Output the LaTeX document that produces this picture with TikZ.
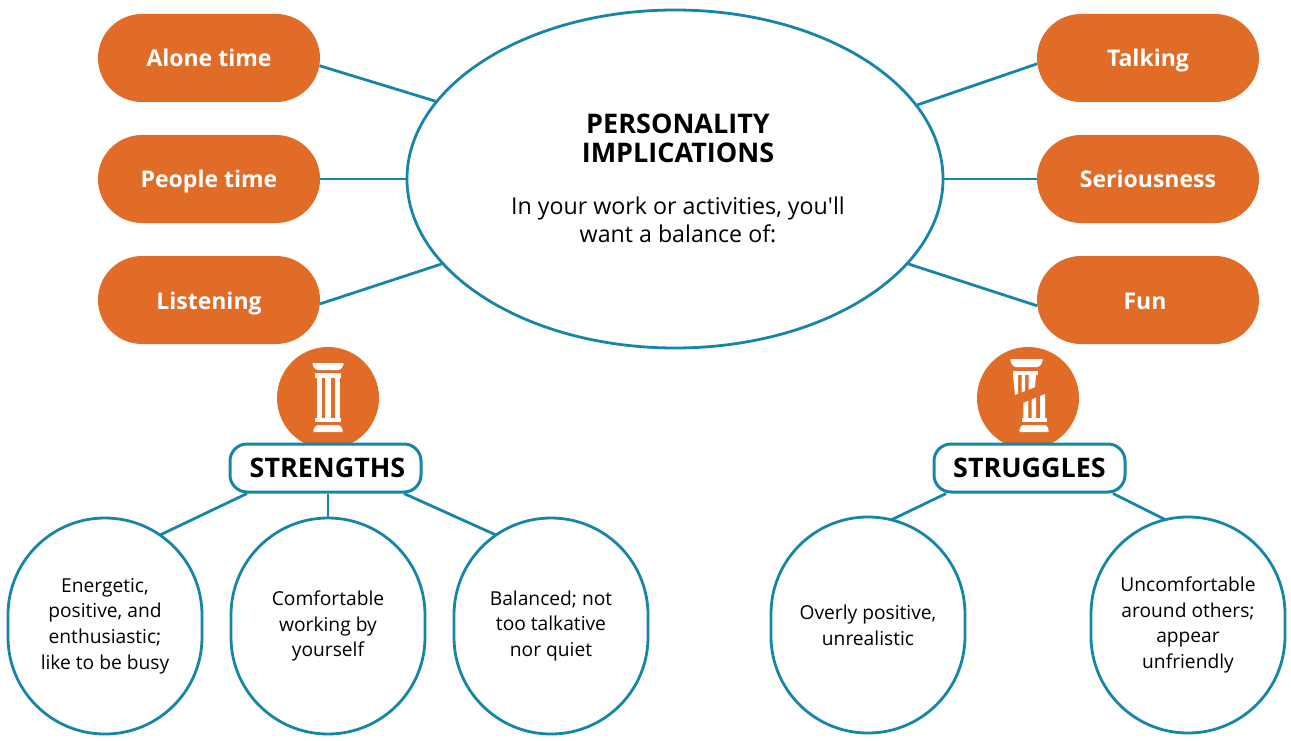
\documentclass[tikz,border=0pt]{standalone}
\usepackage{fontspec}
\setmainfont{Open Sans}
\usepackage{xcolor}
\usetikzlibrary{
    positioning,
    shapes.geometric,
    shapes.misc
}
\definecolor{printOrange}{RGB}{224, 108, 39}
\definecolor{printTeal}{RGB}{21, 133, 168}

\tikzset{
    link/.style={line width=2.8pt, printTeal},
    pill/.style={rounded rectangle, fill=printOrange, text=white, minimum width=222pt, minimum height=88pt, inner sep=0pt, text height=18pt, text depth=0pt, font=\fontsize{23}{28}\selectfont\bfseries},
    bubble/.style={rectangle, rounded corners=96.9pt, draw=printTeal, line width=2.8pt, fill=white, minimum width=194pt, minimum height=216pt, inner sep=0pt, align=center, font=\fontsize{19.2}{25.8}\selectfont},
    headbox/.style={rectangle, rounded corners=17pt, draw=printTeal, line width=3pt, fill=white, minimum width=191pt, minimum height=48pt, inner sep=0pt, text height=19pt, text depth=0pt, font=\fontsize{26.9}{30}\selectfont\bfseries},
    iconDisc/.style={circle, fill=printOrange, minimum size=102pt, inner sep=0pt}
}

\begin{document}
\begin{tikzpicture}[x=1pt, y=-1pt]
        \useasboundingbox (0,0) rectangle (1291,741);

        % centre
        \node[ellipse, draw=printTeal, line width=2.8pt, minimum width=536pt, minimum height=338pt, inner sep=0pt] (implications) at (675,179) {};
        \node[align=center, font=\fontsize{27}{29}\selectfont\bfseries] (title) at (678,138) {PERSONALITY\\IMPLICATIONS};
        \node[align=center, font=\fontsize{23.2}{28}\selectfont] (balance) at (678,220) {In your work or activities, you\textquotesingle ll\\want a balance of:};

        % left and right pills
        \node[pill] (alone) at (209,58) {Alone time};
        \node[pill] (people) at (209,179) {People time};
        \node[pill] (listening) at (209,300) {Listening};
        \node[pill] (talking) at (1148,58) {Talking};
        \node[pill] (seriousness) at (1148,179) {Seriousness};
        \node[pill] (fun) at (1148,300) {Fun\hspace*{6pt}};

        \draw[link] (alone.-4.6) -- (implications.162.7);
        \draw[link] (people.east) -- (implications.west);
        \draw[link] (listening.-2) -- (implications.200.1);
        \draw[link] (talking.183) -- (implications.17.4);
        \draw[link] (seriousness.west) -- (implications.east);
        \draw[link] (fun.183.6) -- (implications.-20.2);

        % strengths
        \node[iconDisc] (strengthsIcon) at (328,398) {};
        \begin{scope}[shift={(328,398)}, white]
            \fill[rounded corners=1pt] (-16,-35) -- (16,-35) -- (14,-30) -- (11,-28) -- (-11,-28) -- (-14,-30) -- cycle;
            \fill (-13,-25) rectangle (13,-20);
            \fill (-11.5,-20) rectangle (-6.5,20);
            \fill (-3,-20) rectangle (3,20);
            \fill (6.5,-20) rectangle (11.5,20);
            \fill (-13,20) rectangle (13,24);
            \fill[rounded corners=1pt] (-11,27) -- (11,27) -- (14,30) -- (15,34) -- (-15,34) -- (-14,30) -- cycle;
        \end{scope}
        \node[headbox] (strengths) at (325.5,468) {\hspace*{4pt}STRENGTHS};
        \node[bubble] (busy) at (105,626) {Energetic,\\positive, and\\enthusiastic;\\like to be busy};
        \node[bubble] (working) at (328,626) {Comfortable\\working by\\yourself};
        \node[bubble] (balanced) at (551,626) {Balanced; not\\too talkative\\nor quiet};
        \draw[link] (strengths.198.2) -- ([shift={(55,-91)}]busy.center);
        \draw[link] (working.north) -- (working.north |- strengths.south);
        \draw[link] (strengths.-18.2) -- ([shift={(-55,-91)}]balanced.center);

        % struggles
        \node[iconDisc] (strugglesIcon) at (1028,398) {};
        \begin{scope}[shift={(1028,398)}, white]
            \fill[rounded corners=1pt] (-18,-39) -- (15,-39) -- (13,-33) -- (10,-31) -- (-13,-31) -- (-16,-33) -- cycle;
            \fill (-15,-27) rectangle (10,-23);
            \fill (-15,-23) -- (-10,-23) -- (-10,-4.2) -- (-13,-3) -- cycle;
            \fill (-6.3,-23) -- (-3,-23) -- (-3,-7) -- (-6.3,-5.7) -- cycle;
            \fill (0.5,-23) -- (8,-23) -- (7,-11) -- (0.5,-8.2) -- cycle;
            \fill (-4.7,4.9) -- (0.3,2.8) -- (0.3,20) -- (-4.7,20) -- cycle;
            \fill (3.5,1.5) -- (8,-0.4) -- (8,20) -- (3.5,20) -- cycle;
            \fill (12,-2) -- (17,-4) -- (17,20) -- (12,20) -- cycle;
            \fill (-6,20) rectangle (19,24);
            \fill[rounded corners=1pt] (-6,27) -- (18,27) -- (20,30) -- (21,34) -- (-9,34) -- (-8,30) -- cycle;
        \end{scope}
        \node[headbox] (struggles) at (1029.5,468) {STRUGGLES};
        \node[bubble] (positive) at (868,625) {Overly positive,\\unrealistic};
        \node[bubble] (others) at (1188,625) {Uncomfortable\\around others;\\appear\\unfriendly};
        \draw[link] (struggles.197.4) -- ([shift={(23,-105)}]positive.center);
        \draw[link] (struggles.-17.4) -- ([shift={(-22,-105)}]others.center);
    \end{tikzpicture}
\end{document}
